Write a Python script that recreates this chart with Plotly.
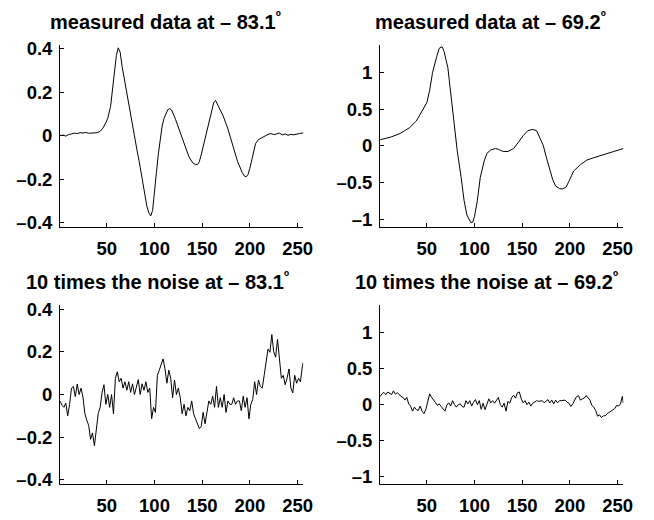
import plotly.graph_objects as go

# ---------------- data ----------------
meas831_x = [1, 4, 7, 10, 13, 16, 19, 22, 25, 28, 31, 34, 37, 40, 43, 46, 49, 51, 54, 56, 58, 60, 62, 64,
             66, 68, 70, 72, 74, 76, 78, 80, 82, 84, 86, 88, 90, 92, 94, 96, 98, 100, 102, 104, 106, 108,
             110, 112, 114, 116, 118, 122, 127, 132, 136, 140, 143, 145, 147, 149, 152, 155, 159, 162, 164,
             167, 172, 177, 182, 187, 192, 194, 196, 198, 200, 203, 206, 209, 212, 216, 219, 222, 225, 228,
             231, 234, 237, 240, 243, 246, 249, 252, 256]
meas831_y = [0.0, 0.003, -0.002, 0.005, 0.008, 0.012, 0.010, 0.014, 0.012, 0.015, 0.011, 0.013, 0.012,
             0.014, 0.020, 0.035, 0.060, 0.080, 0.136, 0.220, 0.300, 0.370, 0.405, 0.385, 0.320, 0.270,
             0.215, 0.160, 0.110, 0.055, 0.010, -0.035, -0.075, -0.120, -0.170, -0.220, -0.280, -0.325,
             -0.355, -0.370, -0.345, -0.270, -0.170, -0.085, -0.020, 0.045, 0.080, 0.105, 0.120, 0.125,
             0.118, 0.076, 0.016, -0.043, -0.096, -0.125, -0.133, -0.133, -0.120, -0.088, -0.030, 0.030,
             0.106, 0.151, 0.163, 0.136, 0.091, 0.031, -0.043, -0.118, -0.170, -0.185, -0.190, -0.180,
             -0.150, -0.090, -0.036, -0.018, -0.010, 0.0, 0.006, 0.010, 0.005, 0.008, 0.012, 0.004, 0.008,
             0.002, 0.006, 0.004, 0.008, 0.010, 0.013]

meas692_x = [1, 12, 22, 32, 39, 44, 50, 53, 56, 60, 63, 66, 68, 72, 75, 79, 82, 86, 89, 92, 96, 98,
             100, 103, 106, 110, 113, 117, 122, 125, 130, 135, 141, 146, 151, 156, 161, 165, 168, 172,
             175, 179, 182, 185, 189, 192, 196, 199, 204, 211, 218, 225, 235, 246, 256]
meas692_y = [0.085, 0.12, 0.17, 0.25, 0.34, 0.45, 0.59, 0.76, 1.0, 1.2, 1.33, 1.35, 1.29, 1.07, 0.72,
             0.32, -0.08, -0.43, -0.74, -0.94, -1.04, -1.04, -0.96, -0.74, -0.43, -0.21, -0.10, -0.055,
             -0.035, -0.045, -0.075, -0.075, -0.035, 0.05, 0.14, 0.21, 0.225, 0.21, 0.13, 0.01, -0.14,
             -0.32, -0.46, -0.545, -0.58, -0.585, -0.56, -0.48, -0.34, -0.255, -0.19, -0.16, -0.115,
             -0.075, -0.035]

noise_x = list(range(1, 256, 2)) + [256]

noise831_y = [-0.03, -0.05, -0.06, -0.04, -0.10, -0.046, 0.03, 0.038, -0.01, 0.049, 0.0, 0.03, -0.012,
              -0.09, -0.12, -0.145, -0.21, -0.18, -0.24, -0.15, -0.09, -0.06, 0.008, 0.046, -0.046, 0.0,
              -0.06, 0.0, -0.09, 0.076, 0.106, 0.06, 0.076, 0.03, 0.06, 0.02, 0.06, 0.01, 0.05, 0.0, 0.04,
              0.07, 0.0, 0.05, 0.02, 0.06, 0.01, 0.03, -0.114, -0.06, -0.084, 0.09, 0.114, 0.137, 0.167,
              0.12, 0.053, 0.114, 0.076, -0.015, 0.068, 0.0, 0.03, -0.015, -0.09, -0.046, -0.10, -0.06,
              -0.076, -0.03, -0.09, -0.114, -0.137, -0.16, -0.15, -0.084, -0.137, -0.076, -0.03, -0.046,
              -0.008, -0.06, 0.038, -0.06, -0.015, -0.06, 0.0, -0.084, -0.03, -0.046, -0.046, -0.015,
              -0.046, -0.03, -0.03, -0.076, -0.008, -0.06, -0.015, -0.114, -0.046, -0.023, 0.06, 0.0,
              0.068, 0.038, 0.03, 0.09, 0.152, 0.213, 0.198, 0.281, 0.20, 0.175, 0.259, 0.152, 0.076,
              0.09, 0.046, 0.076, 0.12, 0.03, 0.008, 0.09, 0.053, 0.076, 0.06, 0.13, 0.15]

noise692_y = [0.11, 0.15, 0.17, 0.14, 0.175, 0.16, 0.14, 0.19, 0.145, 0.165, 0.135, 0.115, 0.10, 0.063,
              0.10, 0.01, -0.02, -0.09, -0.035, -0.07, -0.08, -0.02, -0.09, -0.125, -0.065, 0.055, 0.15,
              0.10, 0.055, 0.03, -0.01, 0.01, -0.025, -0.055, -0.09, -0.005, 0.025, -0.02, 0.055, 0.0,
              -0.035, 0.0, 0.01, -0.025, -0.035, 0.055, 0.01, 0.055, -0.02, 0.035, 0.07, 0.0, 0.055,
              -0.065, 0.02, -0.07, -0.005, 0.08, 0.025, 0.055, 0.02, 0.063, 0.10, 0.0, -0.035, 0.02,
              -0.09, 0.045, 0.02, 0.10, 0.13, 0.09, 0.165, 0.175, 0.08, 0.025, 0.055, 0.0, 0.035, -0.02,
              0.02, 0.035, 0.055, 0.045, 0.055, 0.055, 0.025, 0.055, 0.07, 0.025, 0.063, 0.01, 0.063,
              0.025, 0.055, 0.055, 0.055, 0.063, 0.035, 0.02, -0.025, 0.01, 0.063, 0.11, 0.125, 0.063,
              0.08, 0.09, 0.125, 0.10, 0.063, -0.01, -0.035, -0.08, -0.16, -0.14, -0.18, -0.155, -0.155,
              -0.125, -0.11, -0.085, -0.07, -0.055, -0.01, -0.02, 0.01, 0.115, 0.02]

titles = ["measured data at – 83.1", "measured data at – 69.2",
          "10 times the noise at – 83.1", "10 times the noise at – 69.2"]

x_ticks = [50, 100, 150, 200, 250]
x_labels = ["50", "100", "150", "200", "250"]
left_ticks = [-0.4, -0.2, 0, 0.2, 0.4]
left_labels = ["–0.4", "–0.2", "0", "0.2", "0.4"]
right_ticks = [-1, -0.5, 0, 0.5, 1]
right_labels = ["–1", "–0.5", "0", "0.5", "1"]

# ---------------- figure ----------------
W, H = 654, 520
FONT = "Liberation Sans, Arial, Helvetica, sans-serif"

xdom_l = [61 / W, 308 / W]
xdom_r = [386 / W, 633 / W]
ydom_t = [1 - 226 / H, 1 - 39.5 / H]
ydom_b = [1 - 489.4 / H, 1 - 306 / H]

fig = go.Figure()
series = [(meas831_x, meas831_y), (meas692_x, meas692_y), (noise_x, noise831_y), (noise_x, noise692_y)]
for i, (xs, ys) in enumerate(series):
    fig.add_trace(go.Scatter(x=xs, y=ys, mode="lines", line=dict(color="black", width=1),
                             xaxis="x" if i == 0 else f"x{i+1}", yaxis="y" if i == 0 else f"y{i+1}",
                             showlegend=False, hoverinfo="skip"))

axis_common = dict(showline=True, linecolor="black", linewidth=1, ticks="inside", ticklen=4,
                   tickcolor="black", showgrid=False, zeroline=False, mirror=False,
                   tickfont=dict(family=FONT, size=18.5, color="black"))

bold = lambda labels: ["<b>" + s + "</b>" for s in labels]

layout = dict(width=W, height=H, margin=dict(l=0, r=0, t=0, b=0), plot_bgcolor="white",
              paper_bgcolor="white", showlegend=False)
doms = [(xdom_l, ydom_t), (xdom_r, ydom_t), (xdom_l, ydom_b), (xdom_r, ydom_b)]
for i, (xd, yd) in enumerate(doms):
    k = "" if i == 0 else str(i + 1)
    left = i in (0, 2)
    layout[f"xaxis{k}"] = dict(domain=xd, range=[1, 256], tickvals=x_ticks, ticktext=bold(x_labels),
                               anchor=f"y{k}", ticklabelstandoff=5, **axis_common)
    layout[f"yaxis{k}"] = dict(domain=yd, anchor=f"x{k}",
                               range=[-0.42, 0.42] if left else [-1.1, 1.38],
                               tickvals=left_ticks if left else right_ticks,
                               ticktext=bold(left_labels if left else right_labels),
                               ticklabelstandoff=3, **axis_common)
fig.update_layout(**layout)

title_cx = [168.5, 498.5, 160, 494]
title_cy = [15, 15, 280.5, 280.5]
for t, cx, cy in zip(titles, title_cx, title_cy):
    fig.add_annotation(text="<b>" + t + "<sup>º</sup></b>", x=cx / W, y=1 - cy / H,
                       xref="paper", yref="paper", xanchor="center", yanchor="middle",
                       showarrow=False, font=dict(family=FONT, size=20, color="black"))

fig.write_html("out.html")
